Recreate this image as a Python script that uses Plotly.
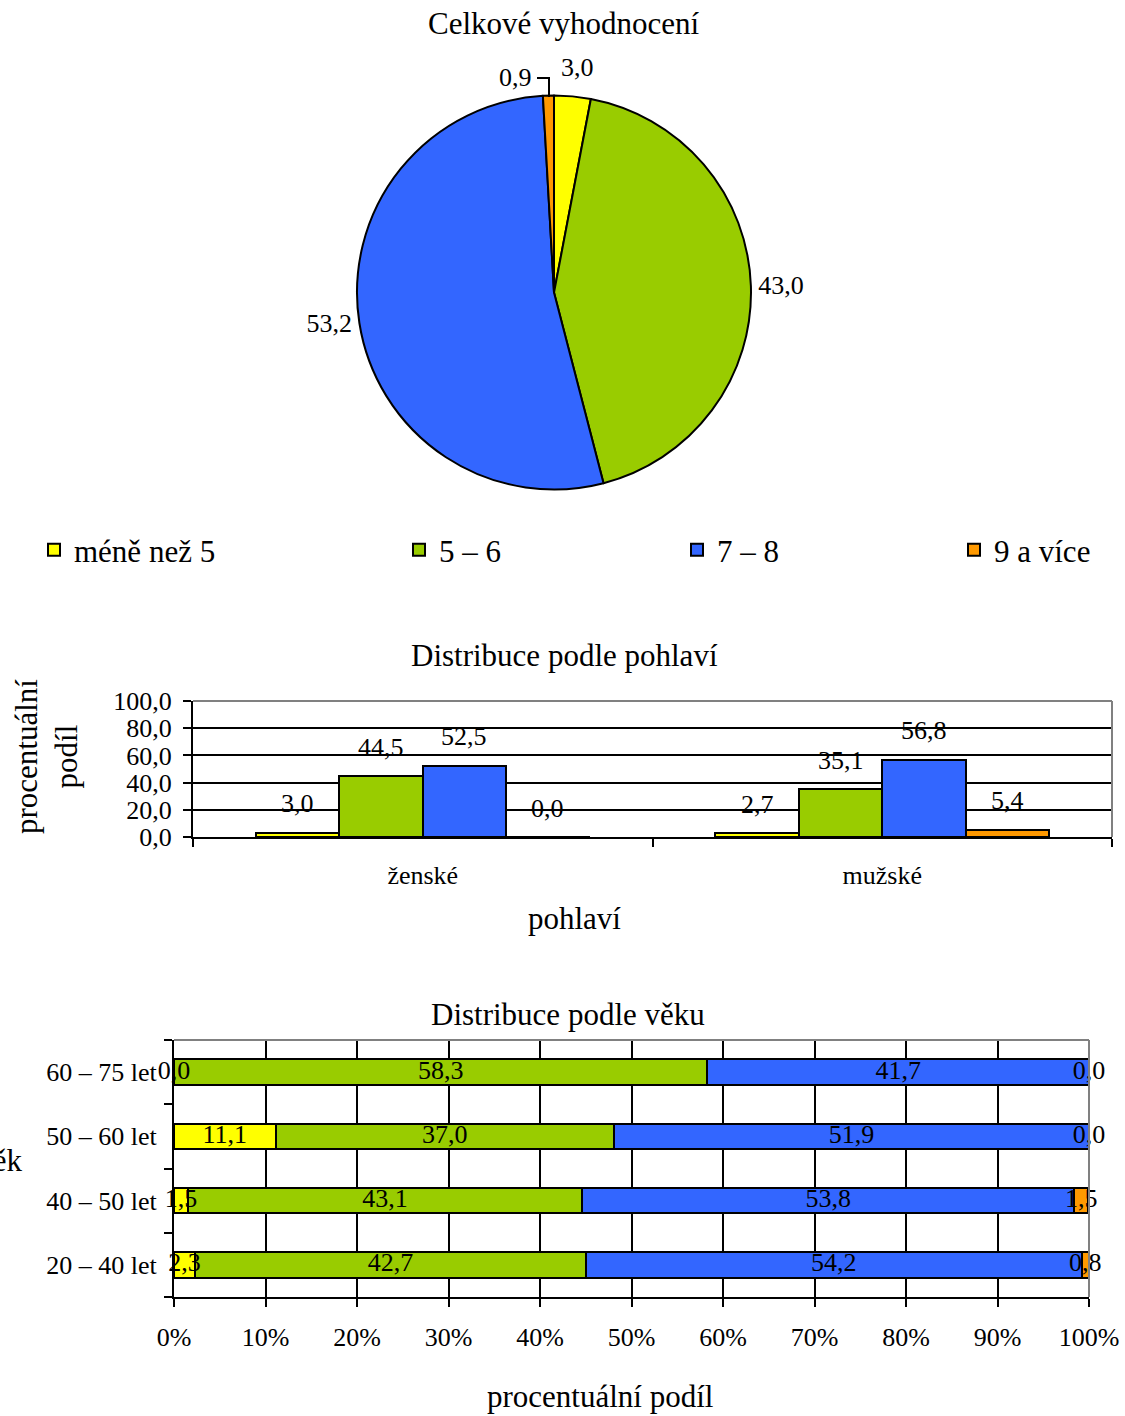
import plotly.graph_objects as go

# --- data ---------------------------------------------------------------
groups = ["méně než 5", "5 – 6", "7 – 8", "9 a více"]
colors = ["#FFFF00", "#99CC00", "#3366FF", "#FF9900"]

# overall evaluation (pie)
overall = [3.0, 43.0, 53.2, 0.9]

# distribution by gender (grouped bars)
genders = ["ženské", "mužské"]
gender_vals = {
    "méně než 5": [3.0, 2.7],
    "5 – 6": [44.5, 35.1],
    "7 – 8": [52.5, 56.8],
    "9 a více": [0.0, 5.4],
}

# distribution by age (100 % stacked horizontal bars), bottom to top
ages = ["20 – 40 let", "40 – 50 let", "50 – 60 let", "60 – 75 let"]
age_vals = {
    "méně než 5": [2.3, 1.5, 11.1, 0.0],
    "5 – 6": [42.7, 43.1, 37.0, 58.3],
    "7 – 8": [54.2, 53.8, 51.9, 41.7],
    "9 a více": [0.8, 1.5, 0.0, 0.0],
}
pct_ticks = list(range(0, 101, 10))

# --- layout helpers -----------------------------------------------------
W, H = 1125, 1416
SERIF = "Liberation Serif, Times New Roman, serif"


def px(x):
    return x / W


def py(y):
    return 1 - y / H


def fmt(v):
    return f"{v:.1f}".replace(".", ",")


LABEL_SIZE = 26
TITLE_SIZE = 31
label_font = dict(family=SERIF, size=LABEL_SIZE, color="black")

fig = go.Figure()

# pie: overall evaluation; the two thin slices get callout labels instead
fig.add_trace(go.Pie(
    values=overall,
    labels=groups,
    marker=dict(colors=colors, line=dict(color="black", width=2)),
    sort=False,
    direction="clockwise",
    rotation=0,
    textposition=["none", "outside", "outside", "none"],
    texttemplate="%{value:.1f}",
    textfont=label_font,
    domain=dict(x=[px(357), px(751)], y=[py(490), py(95)]),
    showlegend=False,
    hoverinfo="label+value",
))

# grouped bars: gender (each series gets its own legend box)
BARGAP = 0.274
group_w = 1 - BARGAP
bar_w = group_w / len(groups)
legend_names = ["legend", "legend2", "legend3", "legend4"]
annotations = []
for k, (g, c) in enumerate(zip(groups, colors)):
    vals = gender_vals[g]
    fig.add_trace(go.Bar(
        x=genders, y=vals, name=g,
        marker=dict(color=c, line=dict(color="black", width=2)),
        offsetgroup=f"g{k}",
        xaxis="x", yaxis="y",
        showlegend=True, legend=legend_names[k],
    ))
    for i, v in enumerate(vals):
        annotations.append(dict(
            x=i - group_w / 2 + bar_w * (k + 0.5), y=v,
            xref="x", yref="y", yshift=29,
            text=fmt(v), showarrow=False, font=label_font,
        ))

# stacked horizontal bars: age
cum = [0.0] * len(ages)
for g, c in zip(groups, colors):
    vals = age_vals[g]
    fig.add_trace(go.Bar(
        y=ages, x=vals, orientation="h", name=g,
        marker=dict(color=c, line=dict(color="black", width=2)),
        width=0.4, offsetgroup="age",
        xaxis="x2", yaxis="y2",
        showlegend=False,
    ))
    mids = [cb + v / 2 for cb, v in zip(cum, vals)]
    fig.add_trace(go.Scatter(
        x=mids, y=ages, mode="text",
        text=[fmt(v) for v in vals],
        textposition="middle center",
        textfont=label_font,
        cliponaxis=False,
        xaxis="x2", yaxis="y2",
        showlegend=False, hoverinfo="skip",
    ))
    cum = [cb + v for cb, v in zip(cum, vals)]

# "věk" axis caption runs past the left page edge; drawn on a pixel overlay
fig.add_trace(go.Scatter(
    x=[22], y=[1163], mode="text", text=["věk"],
    textposition="middle left",
    textfont=dict(family=SERIF, size=TITLE_SIZE, color="black"),
    cliponaxis=False, xaxis="x3", yaxis="y3",
    showlegend=False, hoverinfo="skip",
))

title_font = dict(family=SERIF, size=TITLE_SIZE, color="black")


def paper_text(text, x, y, **kw):
    return dict(text=text, x=px(x), y=py(y), xref="paper", yref="paper",
                showarrow=False, font=kw.pop("font", title_font),
                xanchor=kw.pop("xanchor", "center"),
                yanchor=kw.pop("yanchor", "middle"), **kw)


annotations += [
    paper_text("Celkové vyhodnocení", 564, 24),
    paper_text("Distribuce podle pohlaví", 564, 655),
    paper_text("Distribuce podle věku", 568, 1014),
    paper_text("pohlaví", 574, 918),
    paper_text("procentuální<br>podíl", 47, 757, textangle=-90),
    paper_text("procentuální podíl", 600, 1416, yanchor="bottom"),
    # callouts for the two thin pie slices
    paper_text(fmt(overall[0]), 577, 67, font=label_font),
    paper_text(fmt(overall[3]), 534, 78, xanchor="right", font=label_font),
]

# gray frame lines on the top and right of both bar plots
gray = dict(color="#808080", width=2)
shapes = [
    dict(type="line", xref="x domain", yref="y domain", x0=0, x1=1, y0=1, y1=1, line=gray),
    dict(type="line", xref="x domain", yref="y domain", x0=1, x1=1, y0=0, y1=1, line=gray),
    dict(type="line", xref="x2 domain", yref="y2 domain", x0=0, x1=1, y0=1, y1=1, line=gray),
    dict(type="line", xref="x2 domain", yref="y2 domain", x0=1, x1=1, y0=0, y1=1, line=gray),
    # leader line of the pie callout
    dict(type="path", xref="x3", yref="y3",
         path="M 549,97 L 549,78 L 537,78", line=dict(color="black", width=2)),
]

tick_font = dict(family=SERIF, size=LABEL_SIZE, color="black")
legend_font = dict(family=SERIF, size=TITLE_SIZE, color="black")


def legend_box(x):
    return dict(orientation="h", x=px(x), y=py(550), xanchor="left", yanchor="middle",
                font=legend_font, itemclick=False, itemdoubleclick=False,
                bgcolor="rgba(0,0,0,0)")


fig.update_layout(
    width=W, height=H,
    margin=dict(l=0, r=0, t=0, b=0, autoexpand=False),
    paper_bgcolor="white", plot_bgcolor="rgba(0,0,0,0)",
    separators=", ",
    barmode="stack", bargap=BARGAP, bargroupgap=0,
    font=dict(family=SERIF, color="black"),
    showlegend=True,
    legend=legend_box(34),
    legend2=legend_box(399),
    legend3=legend_box(677),
    legend4=legend_box(954),
    xaxis=dict(
        domain=[px(193), px(1112)], type="category", anchor="y",
        showline=True, linecolor="black", linewidth=2,
        ticks="outside", tickson="boundaries", ticklen=8, tickwidth=2, tickcolor="black",
        tickfont=tick_font, ticklabelstandoff=14,
        showgrid=False, zeroline=False, fixedrange=True,
    ),
    yaxis=dict(
        domain=[py(837), py(701)], range=[0, 100], anchor="x",
        tickvals=[0, 20, 40, 60, 80, 100], tickformat=".1f",
        showline=True, linecolor="black", linewidth=2,
        ticks="outside", ticklen=8, tickwidth=2, tickcolor="black",
        tickfont=tick_font, ticklabelstandoff=6,
        showgrid=True, gridcolor="black", gridwidth=2, zeroline=False, fixedrange=True,
    ),
    xaxis2=dict(
        domain=[px(174), px(1089)], range=[0, 100], anchor="y2",
        tickvals=pct_ticks, ticktext=[f"{t}%" for t in pct_ticks],
        showline=True, linecolor="black", linewidth=2,
        ticks="outside", ticklen=8, tickwidth=2, tickcolor="black",
        tickfont=tick_font, ticklabelstandoff=8,
        showgrid=True, gridcolor="black", gridwidth=2, zeroline=False, fixedrange=True,
    ),
    yaxis2=dict(
        domain=[py(1297), py(1040)], type="category", anchor="x2",
        categoryorder="array", categoryarray=ages,
        showline=True, linecolor="black", linewidth=2,
        ticks="outside", tickson="boundaries", ticklen=8, tickwidth=2, tickcolor="black",
        tickfont=tick_font, ticklabelstandoff=10,
        showgrid=False, zeroline=False, fixedrange=True,
    ),
    # full-page pixel overlay used for free-standing captions
    xaxis3=dict(domain=[0, 1], range=[0, W], anchor="y3", visible=False, fixedrange=True),
    yaxis3=dict(domain=[0, 1], range=[H, 0], anchor="x3", visible=False, fixedrange=True),
    annotations=annotations,
    shapes=shapes,
)

fig.write_html("out.html")
